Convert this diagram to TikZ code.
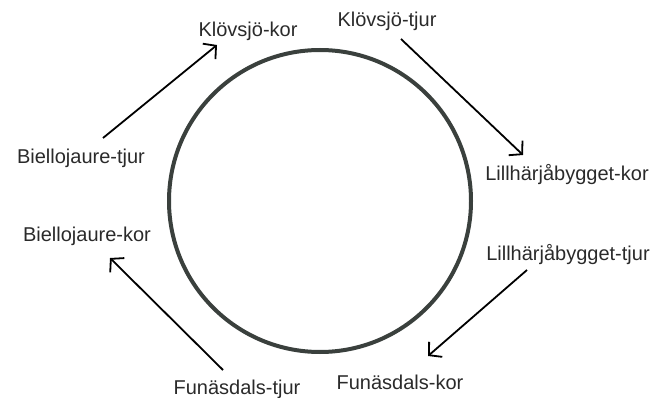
\documentclass[tikz,border=0pt]{standalone}
\usepackage{fontspec}
\setmainfont{Liberation Sans}
\usetikzlibrary{arrows.meta}
\definecolor{ringgray}{HTML}{3A403D}
\definecolor{textgray}{HTML}{2A2A2A}
\begin{document}
\begin{tikzpicture}[x=1pt,y=-1pt,
    lbl/.style={anchor=base,inner sep=0pt,text=textgray,font=\fontsize{20}{24}\selectfont},
    pil/.style={-{Straight Barb[length=9pt,width=20pt,line width=1.8pt]},line width=1.8pt}]
    \useasboundingbox (0,0) rectangle (656,398);
    % ring
    \draw[ringgray, line width=4pt] (320,201) circle (151pt);
    % labels
    \foreach \n/\x/\y/\t in {kk/248/37/Klövsjö-kor, kt/387/27/Klövsjö-tjur,
        lk/567/181/Lillhärjåbygget-kor, lt/568/260/Lillhärjåbygget-tjur,
        fk/400/389/Funäsdals-kor, ft/237/394/Funäsdals-tjur,
        bk/87/242/Biellojaure-kor, bt/81/164/Biellojaure-tjur} {
        \node[lbl] (\n) at (\x,\y) {\t};
    }
    % arrow ends
    \coordinate (bt-ut) at (103,138);
    \coordinate (kk-in) at (217,45);
    \coordinate (kt-ut) at (401,39);
    \coordinate (lk-in) at (523,155);
    \coordinate (lt-ut) at (527,270);
    \coordinate (fk-in) at (428,356);
    \coordinate (ft-ut) at (223,370);
    \coordinate (bk-in) at (110,258);
    \draw[pil] (bt-ut) -- (kk-in);
    \draw[pil] (kt-ut) -- (lk-in);
    \draw[pil] (lt-ut) -- (fk-in);
    \draw[pil] (ft-ut) -- (bk-in);
\end{tikzpicture}
\end{document}
